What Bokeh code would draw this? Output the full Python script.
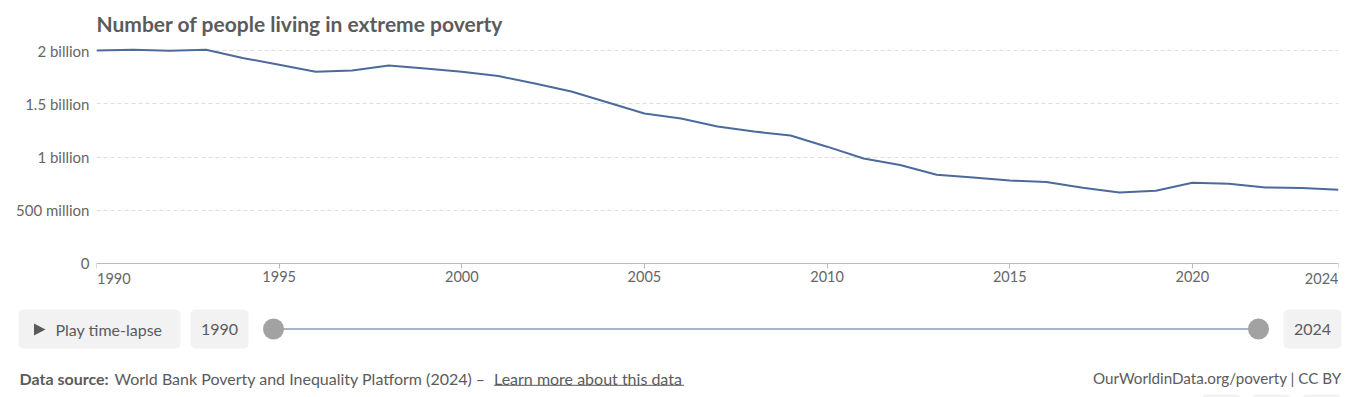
from bokeh.plotting import figure
from bokeh.models import Range1d, FixedTicker, ColumnDataSource
from bokeh.layouts import column
from bokeh.core.properties import value
from bokeh.embed import file_html
from bokeh.resources import INLINE

# ---------------- data ----------------
years = list(range(1990, 2025))
people_millions = [2000, 2007, 1997, 2007, 1930, 1866, 1800, 1812, 1859, 1831,
                   1800, 1760, 1690, 1615, 1512, 1408, 1362, 1286, 1239, 1202,
                   1097, 986, 925, 834, 808, 779, 765, 712, 667, 683,
                   759, 749, 714, 708, 692]
y_ticks = [0, 500, 1000, 1500, 2000]
y_tick_labels = ["0", "500 million", "1 billion", "1.5 billion", "2 billion"]
x_ticks = [1990, 1995, 2000, 2005, 2010, 2015, 2020, 2024]
x_tick_labels = ["1990", "1995", "2000", "2005", "2010", "2015", "2020", "2024"]
title_text = "Number of people living in extreme poverty"
start_year, end_year = "1990", "2024"
play_text = "Play time-lapse"
source_bold = "Data source:"
source_text = "World Bank Poverty and Inequality Platform (2024) \u2013"
source_link = "Learn more about this data"
credit_text = "OurWorldinData.org/poverty | CC BY"

# ---------------- style ----------------
W = 1355
FONT = value("Lato")
TXT = "#5b5b5b"
LABEL = "#666666"
LINE = "#4c6a9c"

def blank(height, y0, y1):
    f = figure(width=W, height=height, x_range=Range1d(0, W), y_range=Range1d(y1, y0),
               x_axis_type=None, y_axis_type=None, output_backend="svg",
               toolbar_location=None, min_border=0, frame_align=False)
    f.grid.visible = False
    f.outline_line_color = None
    return f

# ---------------- title (page y 0..40) ----------------
pt = blank(40, 0, 40)
pt.text(x=[96], y=[22.5], text=[title_text], text_font=FONT, text_font_size=value("21px"),
        text_font_style="bold", text_color=TXT, text_baseline="middle", text_align="left")

# ---------------- chart (page y 40..295) ----------------
# frame spans page y 45..295; value 0 sits at page y 263, 2000 at page y 50
src = ColumnDataSource(dict(year=years, people=people_millions))
p = figure(width=W, height=255, x_range=Range1d(1990, 2024), y_range=Range1d(-300.5, 2047),
           output_backend="svg", toolbar_location=None, frame_align=False,
           min_border_left=96, min_border_right=17, min_border_top=5, min_border_bottom=0)
p.outline_line_color = None
p.line("year", "people", source=src, line_color=LINE, line_width=2)

p.xgrid.visible = False
p.ygrid.ticker = FixedTicker(ticks=y_ticks[1:])
p.ygrid.grid_line_color = "#dddddd"
p.ygrid.grid_line_dash = "4 3"
p.ygrid.grid_line_width = 1

ya = p.yaxis[0]
ya.ticker = FixedTicker(ticks=y_ticks)
ya.major_label_overrides = {t: l for t, l in zip(y_ticks, y_tick_labels)}
ya.axis_line_color = None
ya.major_tick_line_color = None
ya.major_tick_out = 0
ya.major_tick_in = 0
ya.minor_tick_line_color = None
ya.minor_tick_out = 0
ya.major_label_standoff = 7
ya.major_label_text_font = "Lato"
ya.major_label_text_font_size = "15px"
ya.major_label_text_color = LABEL

xa = p.xaxis[0]
xa.fixed_location = 0
xa.ticker = FixedTicker(ticks=x_ticks)
overrides = {t: l for t, l in zip(x_ticks, x_tick_labels)}
# first and last labels are drawn edge-aligned below (as OWID does)
overrides[x_ticks[0]] = ""
overrides[x_ticks[-1]] = ""
xa.major_label_overrides = overrides
xa.axis_line_color = "#bbbbbb"
xa.axis_line_width = 1
xa.major_tick_line_color = "#bbbbbb"
xa.major_tick_out = 5
xa.major_tick_in = 0
xa.minor_tick_line_color = None
xa.major_label_standoff = 3
xa.major_label_text_font = "Lato"
xa.major_label_text_font_size = "14.5px"
xa.major_label_text_color = LABEL

edge_y = -145.5  # same line as the axis labels
p.text(x=[x_ticks[0]], y=[edge_y], text=[x_tick_labels[0]], x_offset=0.5, text_font=FONT,
       text_font_size=value("14.5px"), text_color=LABEL, text_baseline="middle", text_align="left")
p.text(x=[x_ticks[-1]], y=[edge_y], text=[x_tick_labels[-1]], text_font=FONT,
       text_font_size=value("14.5px"), text_color=LABEL, text_baseline="middle", text_align="right")

# ---------------- controls + footer (page y 295..397) ----------------
pb = blank(102, 295, 397)
pb.quad(left=[18, 190, 1283], right=[180, 248, 1341], top=[309, 309, 309], bottom=[348, 348, 348],
        fill_color="#f2f2f2", line_color=None, border_radius=5)
pb.quad(left=[1202, 1252, 1302], right=[1240, 1290, 1340], top=[394, 394, 394],
        bottom=[402, 402, 402], fill_color="#f2f2f2", line_color=None, border_radius=4)
pb.patch(x=[33.5, 33.5, 45], y=[323, 335, 329], fill_color=TXT, line_color=None)
pb.segment(x0=[273], y0=[328.5], x1=[1258], y1=[328.5], line_color="#a7b5c9", line_width=2)
pb.scatter(x=[273, 1258], y=[328.5, 328.5], size=21, fill_color="#a2a2a2", line_color=None)

pb.text(x=[55], y=[328.5], text=[play_text], text_font=FONT, text_font_size=value("16px"),
        text_color=TXT, text_baseline="middle", text_align="left")
pb.text(x=[219, 1312], y=[328.5, 328.5], text=[start_year, end_year], text_font=FONT,
        text_font_size=value("16px"), text_color=TXT, text_baseline="middle", text_align="center")

pb.text(x=[19], y=[377.5], text=[source_bold], text_font=FONT, text_font_size=value("16px"),
        text_font_style="bold", text_color=TXT, text_baseline="middle", text_align="left")
pb.text(x=[114], y=[377.5], text=[source_text], text_font=FONT, text_font_size=value("16px"),
        text_color=TXT, text_baseline="middle", text_align="left")
pb.text(x=[493.5], y=[377.5], text=[source_link], text_font=FONT, text_font_size=value("16px"),
        text_color=TXT, text_baseline="middle", text_align="left")
pb.segment(x0=[493.5], y0=[384.8], x1=[683.5], y1=[384.8], line_color=TXT, line_width=1)
pb.text(x=[1341], y=[377], text=[credit_text], text_font=FONT, text_font_size=value("15.2px"),
        text_color=TXT, text_baseline="middle", text_align="right")

layout = column(pt, p, pb, spacing=0)
open("out.html", "w").write(file_html(layout, INLINE))
